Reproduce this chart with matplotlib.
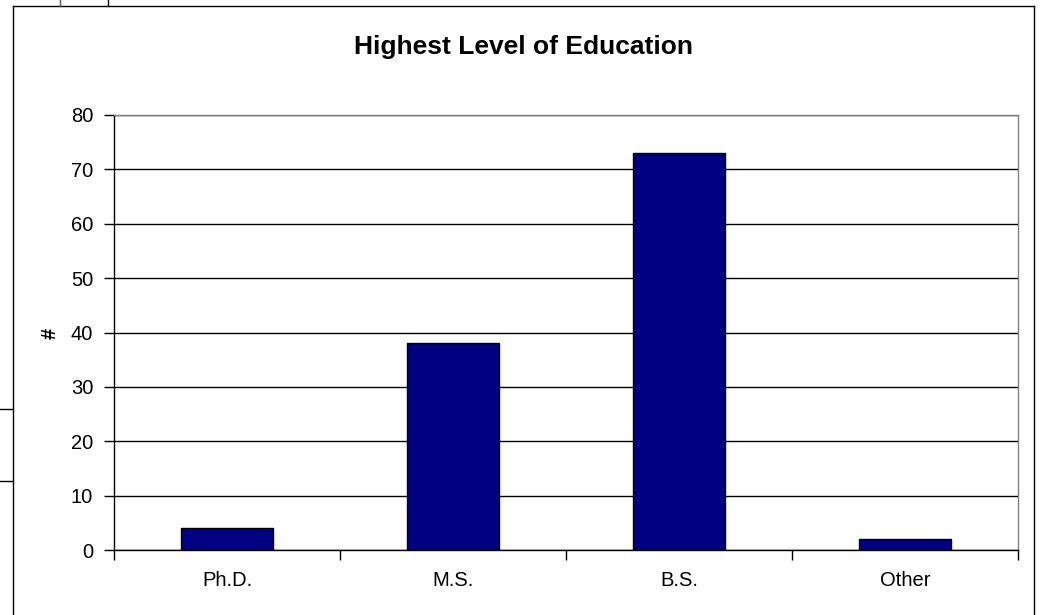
import matplotlib
matplotlib.use("Agg")
import matplotlib.pyplot as plt
from matplotlib.lines import Line2D

categories = ["Ph.D.", "M.S.", "B.S.", "Other"]
counts = [4, 38, 73, 2]
yticks = [0, 10, 20, 30, 40, 50, 60, 70, 80]

W, H = 1040, 615
plt.rcParams['font.family'] = ['Liberation Sans', 'DejaVu Sans']
fig = plt.figure(figsize=(W / 100, H / 100), dpi=100)

def px(x, y):
    return x / W, 1 - y / H

def fline(x0, y0, x1, y1, color="black", lw=1.0):
    a = px(x0, y0); b = px(x1, y1)
    fig.add_artist(Line2D([a[0], b[0]], [a[1], b[1]], color=color, lw=lw,
                          transform=fig.transFigure))

# chart border and spreadsheet artifacts
fline(13, 6, 1034, 6)
fline(13, 6, 13, 615)
fline(1034, 6, 1034, 615)
fline(60, 0, 60, 6, color="#555555")
fline(108, 0, 108, 6)
fline(0, 409, 13, 409)
fline(0, 481, 13, 481)

left, right, top, bottom = 114, 1018, 115, 550
ax = fig.add_axes([left / W, 1 - bottom / H, (right - left) / W, (bottom - top) / H])

x = list(range(len(categories)))
ax.bar(x, counts, width=0.41, color="#000080", edgecolor="black", linewidth=1.0, zorder=3)
ax.set_xlim(-0.5, len(categories) - 0.5)
ax.set_ylim(0, 80)
ax.set_yticks(yticks)
ax.set_yticklabels([str(v) for v in yticks], fontsize=14.5)
ax.set_xticks(x)
ax.set_xticklabels(categories, fontsize=14.5)
ax.tick_params(axis='x', length=0, pad=15)
ax.tick_params(axis='y', length=7, width=1, direction='out', pad=8)
ax.set_xticks([-0.5, 0.5, 1.5, 2.5, 3.5], minor=True)
ax.tick_params(axis='x', which='minor', length=7, width=1, direction='out')
ax.yaxis.grid(True, color="black", linewidth=1.0, zorder=0)
ax.spines['top'].set_color("#808080")
ax.spines['right'].set_color("#808080")
ax.spines['left'].set_color("black")
ax.spines['bottom'].set_color("black")
for s in ax.spines.values():
    s.set_linewidth(1.0)

fig.text(50 / W, 1 - 333 / H, "#", fontsize=14.5, fontweight='bold',
         rotation=90, ha='center', va='center')

fig.text(0.5 * (13 + 1034) / W, 1 - 54 / H, "Highest Level of Education",
         ha='center', va='baseline', fontsize=19, fontweight='bold')

fig.savefig("out.png", dpi=100)
